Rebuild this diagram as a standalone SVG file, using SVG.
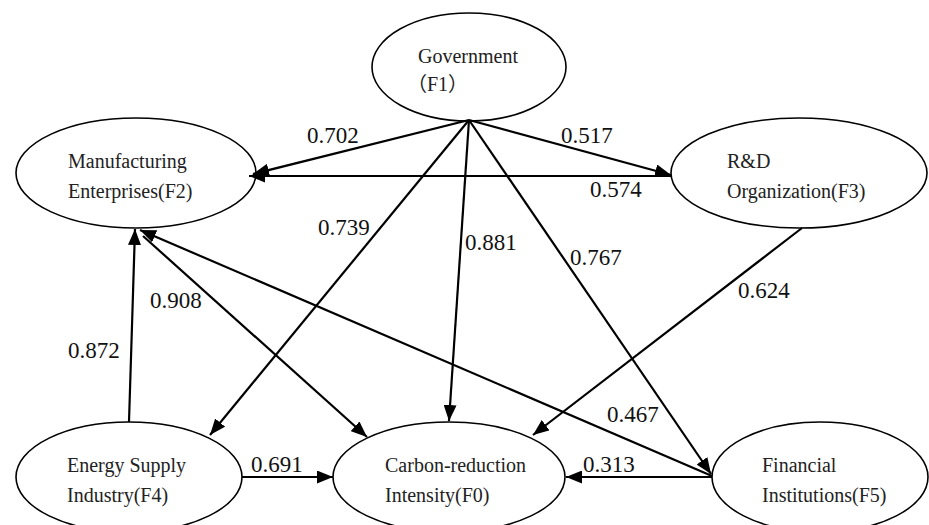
<svg xmlns="http://www.w3.org/2000/svg" width="929" height="525" viewBox="0 0 929 525">
<style>
.node ellipse{fill:#fff;stroke:#000;stroke-width:1.6}
.node text{font-family:"Liberation Serif","Noto Sans CJK SC",serif;font-size:20px;fill:#222}
.edges path{fill:none;stroke:#000;stroke-width:2.2;marker-end:url(#ah)}
#labels text{font-family:"Liberation Serif",serif;font-size:23px;fill:#111}
</style>
<defs>
<marker id="ah" markerUnits="userSpaceOnUse" markerWidth="17" markerHeight="13" refX="16" refY="6.5" orient="auto">
<path d="M0,0 L16,6.5 L0,13 z" fill="#000"/>
</marker>
</defs>
<rect width="929" height="525" fill="#fff"/>
<g id="F1" class="node">
<ellipse cx="469" cy="67" rx="97" ry="54"/>
<text x="418" y="63">Government</text>
<text x="407" y="91">（F1）</text>
</g>
<g id="F2" class="node">
<ellipse cx="136" cy="173" rx="120" ry="55"/>
<text x="68" y="168">Manufacturing</text>
<text x="68" y="198">Enterprises(F2)</text>
</g>
<g id="F3" class="node">
<ellipse cx="799" cy="173" rx="128" ry="55"/>
<text x="727" y="168">R&amp;D</text>
<text x="727" y="198">Organization(F3)</text>
</g>
<g id="F4" class="node">
<ellipse cx="129" cy="477" rx="113" ry="55"/>
<text x="67" y="472">Energy Supply</text>
<text x="67" y="502">Industry(F4)</text>
</g>
<g id="F0" class="node">
<ellipse cx="449" cy="477" rx="116" ry="55"/>
<text x="385" y="472">Carbon-reduction</text>
<text x="385" y="502">Intensity(F0)</text>
</g>
<g id="F5" class="node">
<ellipse cx="820" cy="477" rx="108" ry="55"/>
<text x="762" y="472">Financial</text>
<text x="762" y="502">Institutions(F5)</text>
</g>
<g id="connectors" class="edges">
<path d="M469,120 L253,174"/>
<path d="M469,120 L671,175"/>
<path d="M671,176 L249,176"/>
<path d="M469,120 L210,435"/>
<path d="M469,120 L449,421"/>
<path d="M469,120 L711,474"/>
<path d="M802,228 L533,435"/>
<path d="M129,422 L135,229"/>
<path d="M143,236 L367,437"/>
<path d="M712,476 L140,230"/>
<path d="M242,477 L333,477"/>
<path d="M712,477 L566,477"/>
</g>
<g id="labels" font-family="'Liberation Serif', serif" font-size="23" style="font-family:'Liberation Serif',serif">
<text x="307" y="143">0.702</text>
<text x="561" y="143">0.517</text>
<text x="590" y="197">0.574</text>
<text x="318" y="235">0.739</text>
<text x="465" y="250">0.881</text>
<text x="570" y="265">0.767</text>
<text x="738" y="298">0.624</text>
<text x="150" y="308">0.908</text>
<text x="68" y="358">0.872</text>
<text x="607" y="422">0.467</text>
<text x="251" y="472">0.691</text>
<text x="583" y="472">0.313</text>
</g>
</svg>
